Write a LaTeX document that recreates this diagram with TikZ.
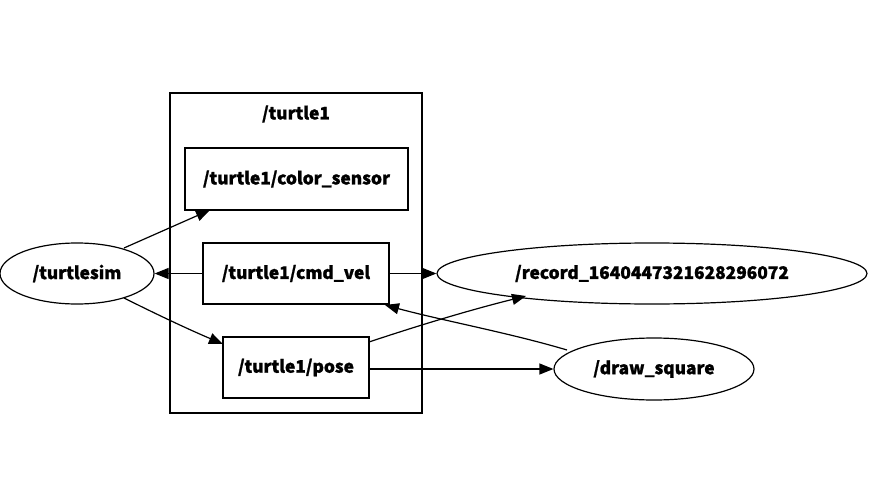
\documentclass[tikz,border=0pt]{standalone}
\usepackage{fontspec}
\setmainfont{Noto Sans CJK SC}[BoldFeatures={FakeBold=1.2}]
\usetikzlibrary{arrows.meta,shapes.geometric}
\begin{document}
\begin{tikzpicture}[x=1pt,y=-1pt,line width=1.2pt,
  lbl/.style={font=\bfseries\fontsize{17.3}{19}\selectfont},
  topicbox/.style={draw,rectangle,inner sep=0pt,lbl},
  nodeell/.style={draw,ellipse,inner sep=0pt,lbl},
  edge/.style={draw,-{Triangle[length=14pt,width=11pt]}}]
\useasboundingbox (0,0) rectangle (871,479);
\node[draw,rectangle,minimum width=252pt,minimum height=320pt,inner sep=0pt] (cl) at (296,253) {};
\node[lbl] (cltitle) at (296,114) {/turtle1};
\node[topicbox,minimum width=223pt,minimum height=62pt] (cs) at (296.5,179) {/turtle1/color\_sensor};
\node[topicbox,minimum width=186pt,minimum height=61pt] (cv) at (296,273.5) {/turtle1/cmd\_vel};
\node[topicbox,minimum width=146pt,minimum height=61pt] (po) at (296,367.5) {/turtle1/pose};
\node[nodeell,minimum width=154pt,minimum height=61pt] (ts) at (77,273.5) {/turtlesim};
\node[nodeell,minimum width=430pt,minimum height=61pt] (rec) at (652,273.5) {/record\_1640447321628296072};
\node[nodeell,minimum width=200pt,minimum height=62pt] (dsq) at (654,369) {/draw\_square};
\coordinate (tsA) at (124,248);
\coordinate (tsB) at (124,298);
\coordinate (csT) at (210,210);
\coordinate (poT) at (223,344);
\coordinate (poR) at (369,342);
\coordinate (recT) at (526,296);
\coordinate (dsqS) at (567,350);
\coordinate (cvT) at (385,305);
\draw[edge] (tsA) -- (csT);
\draw[edge] (cv.west) -- (ts.east);
\draw[edge] (tsB) .. controls (160,316) and (190,330) .. (poT);
\draw[edge] (cv.east) -- (rec.west);
\draw[edge] (poR) .. controls (420,325) and (470,310) .. (recT);
\draw[edge] (dsqS) .. controls (510,333) and (440,320) .. (cvT);
\draw[edge] (po.east |- dsq.west) -- (dsq.west);
\end{tikzpicture}
\end{document}
